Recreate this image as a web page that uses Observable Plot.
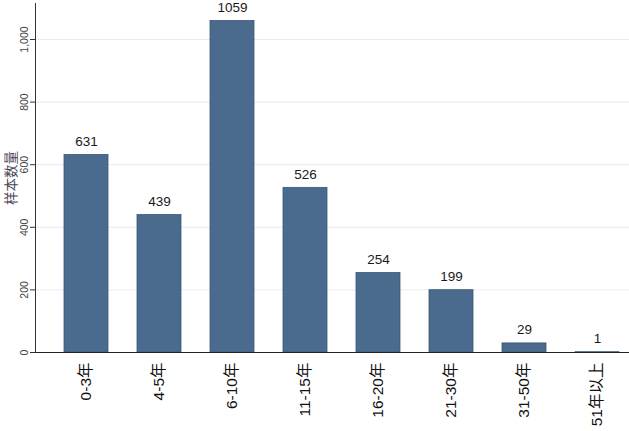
<!DOCTYPE html>
<html>
<head>
<meta charset="utf-8">
<script src="https://cdn.jsdelivr.net/npm/d3@7"></script>
<script src="https://cdn.jsdelivr.net/npm/@observablehq/plot@0.6"></script>
<style>
  html, body { margin: 0; padding: 0; background: #fff; }
  #chart { width: 629px; height: 431px; }
</style>
</head>
<body>
<div id="chart"></div>
<script>
const categories = ["0-3年", "4-5年", "6-10年", "11-15年", "16-20年", "21-30年", "31-50年", "51年以上"];
const counts = [631, 439, 1059, 526, 254, 199, 29, 1];
const yTicks = [0, 200, 400, 600, 800, 1000];
const yTitle = "样本数量";

const data = categories.map((c, i) => ({category: c, count: counts[i]}));
const font = "'Liberation Sans', Arial, 'Noto Sans CJK SC', sans-serif";

const chart = Plot.plot({
  width: 629,
  height: 431,
  marginLeft: 35,
  marginRight: 0,
  marginTop: 3,
  marginBottom: 79,
  style: {fontFamily: font, background: "#fff", overflow: "visible"},
  x: {domain: categories, range: [62, 620.5], paddingInner: 0.4, paddingOuter: 0, align: 0.5},
  y: {domain: [0, 1115], range: [352, 3]},
  marks: [
    Plot.gridY(yTicks.filter(d => d > 0), {stroke: "#e8ecef", strokeOpacity: 1, strokeWidth: 1}),
    Plot.barY(data, {x: "category", y: "count", fill: "#4a6b8d", stroke: "#3a5877", strokeWidth: 0.8}),
    Plot.text(data, {x: "category", y: "count", text: d => String(d.count), lineAnchor: "bottom", dy: -9, fontSize: 13.5, fill: "#1a1a1a"}),
    Plot.axisY({ticks: yTicks, tickFormat: d3.format(","), tickSize: 5, tickPadding: 3, tickRotate: -90, fontSize: 10.5, color: "#444", stroke: "#333", label: null}),
    Plot.text([yTitle], {frameAnchor: "left", textAnchor: "middle", dx: -24, dy: 0, rotate: -90, fontSize: 13.5, fill: "#4a4458", fontFamily: "'Noto Sans CJK SC', sans-serif"}),
    Plot.axisX({tickSize: 0, tickPadding: 10, tickRotate: -90, fontSize: 15.5, color: "#111", label: null}),
    Plot.frame({anchor: "left", stroke: "#333"}),
    Plot.ruleY([0], {stroke: "#222", strokeWidth: 1.2})
  ]
});
document.getElementById("chart").appendChild(chart);
</script>
</body>
</html>
